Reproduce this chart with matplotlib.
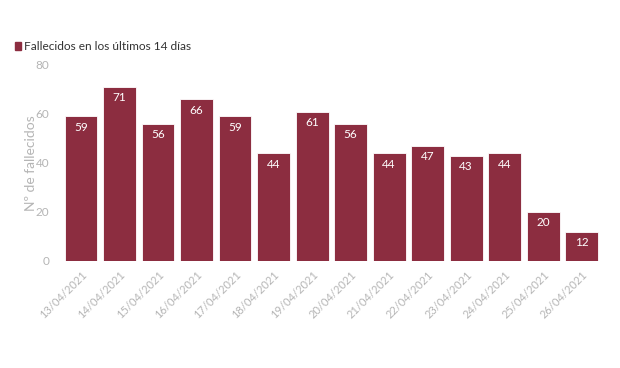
import matplotlib
matplotlib.use("Agg")
import matplotlib.pyplot as plt
from matplotlib.patches import Rectangle

dates = ["13/04/2021", "14/04/2021", "15/04/2021", "16/04/2021", "17/04/2021",
         "18/04/2021", "19/04/2021", "20/04/2021", "21/04/2021", "22/04/2021",
         "23/04/2021", "24/04/2021", "25/04/2021", "26/04/2021"]
deaths = [59, 71, 56, 66, 59, 44, 61, 56, 44, 47, 43, 44, 20, 12]
yticks = [0, 20, 40, 60, 80]
series_name = "Fallecidos en los últimos 14 días"
ylabel = "Nº de fallecidos"

plt.rcParams['font.family'] = ['Lato', 'DejaVu Sans']
bar_color = "#8C2D40"
grey = "#B5B5B5"

fig = plt.figure(figsize=(6.2, 3.68), dpi=100)
ax = fig.add_axes([0.0934, 0.2908, 0.8822, 0.5326])
x = list(range(len(dates)))
bars = ax.bar(x, deaths, width=0.85, color=bar_color, edgecolor="white", linewidth=0.6)
for xi, v in zip(x, deaths):
    ax.text(xi, v - 2.2, str(v), ha="center", va="top", color="white", fontsize=8.5)

ax.set_xlim(-0.6, 13.6)
ax.set_ylim(0, 80)
ax.set_yticks(yticks)
ax.set_yticklabels([str(t) for t in yticks], color=grey, fontsize=8.5)
ax.set_xticks(x)
ax.set_xticklabels(dates, rotation=45, ha="right", rotation_mode="anchor",
                   color=grey, fontsize=8)
ax.tick_params(axis="both", length=0, pad=6)
for s in ax.spines.values():
    s.set_visible(False)
ax.set_ylabel(ylabel, color=grey, fontsize=10)
ax.yaxis.set_label_coords(-0.038, 0.5)

fig.patches.append(Rectangle((15/620, 1-50/368), 6/620, 8/368, transform=fig.transFigure,
                             color=bar_color))
fig.text(24/620, 1-46/368, series_name, fontsize=8.6, color="#333333", va="center", ha="left")

fig.savefig("out.png", dpi=100)
